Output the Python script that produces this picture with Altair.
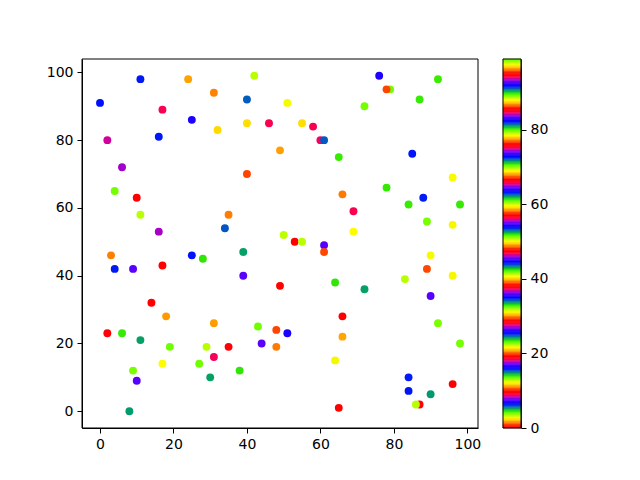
import altair as alt
import numpy as np
import pandas as pd

# ---- data ----
xs = [11, 24, 31, 0, 17, 25, 32, 2, 16, 6,
      4, 10, 11, 16, 34, 42, 40, 51, 40, 46,
      55, 58, 60, 61, 49, 65, 40, 66, 35, 69,
      50, 53, 55, 61, 69, 76, 79, 78, 92, 87,
      72, 85, 96, 78, 88, 84, 98, 89, 96, 3,
      4, 9, 17, 25, 28, 14, 18, 31, 2, 6,
      11, 19, 29, 31, 17, 27, 9, 30, 10, 8,
      39, 39, 49, 61, 64, 43, 48, 51, 35, 44,
      48, 66, 66, 64, 38, 65, 90, 89, 96, 83,
      72, 90, 92, 98, 84, 84, 90, 96, 87, 86]
ys = [98, 98, 94, 91, 89, 86, 83, 80, 81, 72,
      65, 63, 58, 53, 54, 99, 92, 91, 85, 85,
      85, 84, 80, 80, 77, 75, 70, 64, 58, 59,
      52, 50, 50, 49, 53, 99, 95, 95, 98, 92,
      90, 76, 69, 66, 63, 61, 61, 56, 55, 46,
      42, 42, 43, 46, 45, 32, 28, 26, 23, 23,
      21, 19, 19, 16, 14, 14, 12, 10, 9, 0,
      47, 40, 37, 47, 38, 25, 24, 23, 19, 20,
      19, 28, 22, 15, 12, 1, 46, 42, 40, 39,
      36, 34, 26, 20, 10, 6, 5, 8, 2, 2]
cs = [6.4, 11.3, 20.5, 34.9, 46.9, 54.4, 59.2, 74.9, 82.2, 93.5,
      4.0, 9.7, 22.4, 36.7, 43.8, 50.8, 62.7, 69.2, 78.2, 94.3,
      2.4, 18.5, 27.9, 34.3, 39.7, 51.9, 57.9, 67.8, 77.3, 94.3,
      3.4, 9.7, 22.4, 36.0, 40.7, 54.4, 70.3, 57.9, 80.3, 89.8,
      4.0, 15.9, 21.8, 33.0, 44.3, 51.9, 61.4, 70.3, 78.6, 86.8,
      6.4, 17.1, 19.1, 34.9, 42.5, 47.6, 58.6, 68.1, 76.0, 89.8,
      5.3, 13.5, 22.4, 37.4, 40.7, 51.4, 60.8, 71.6, 83.4, 90.6,
      5.3, 17.1, 19.1, 29.5, 42.5, 51.4, 57.9, 73.3, 76.0, 92.9,
      1.5, 9.7, 20.8, 31.3, 42.5, 47.6, 59.7, 67.4, 78.6, 88.7,
      5.3, 17.1, 22.9, 32.4, 44.3, 53.8, 62.2, 66.5, 76.0, 88.7]
x_ticks = [0, 20, 40, 60, 80, 100]
y_ticks = [0, 20, 40, 60, 80, 100]
cbar_ticks = [0, 20, 40, 60, 80]
vmin, vmax = 0, 99

# ---- prism colormap (style) ----
N = 256
u = np.linspace(0, 1, N)
r = np.clip(0.75 * np.sin((u * 20.9 + 0.25) * np.pi) + 0.67, 0, 1)
g = np.clip(0.75 * np.sin((u * 20.9 - 0.25) * np.pi) + 0.33, 0, 1)
b = np.clip(-1.1 * np.sin(u * 20.9 * np.pi), 0, 1)
prism = ["#%02x%02x%02x" % (int(round(a * 255)), int(round(bb * 255)), int(round(c * 255)))
         for a, bb, c in zip(r, g, b)]
dom = [float(v) for v in np.linspace(vmin, vmax, N)]
cscale = alt.Scale(type="linear", domain=dom, range=prism, interpolate="rgb")

df = pd.DataFrame({"x": xs, "y": ys, "c": cs})

FONT = "DejaVu Sans"
axis_style = dict(grid=False, title=None, domainColor="black", domainWidth=1,
                  tickColor="black", tickWidth=1, tickSize=5, labelFontSize=14,
                  labelColor="black", labelPadding=4, labelFont=FONT)

W, H = 396, 369
CW = 18
one = pd.DataFrame({"k": [0]})

def frame(w, h):
    return alt.Chart(one).mark_rect(filled=False, stroke="black", strokeWidth=1).encode(
        x=alt.value(0), x2=alt.value(w), y=alt.value(0), y2=alt.value(h))

points = alt.Chart(df).mark_circle(size=62, opacity=1).encode(
    x=alt.X("x:Q", scale=alt.Scale(domain=[-4.9, 102.9], nice=False, zero=False),
            axis=alt.Axis(values=x_ticks, **axis_style)),
    y=alt.Y("y:Q", scale=alt.Scale(domain=[-4.95, 103.95], nice=False, zero=False),
            axis=alt.Axis(values=y_ticks, minExtent=40, maxExtent=40, **axis_style)),
    color=alt.Color("c:Q", scale=cscale, legend=None),
)
scatter = alt.layer(points, frame(W, H)).properties(width=W, height=H)

# colorbar ramp
edges = np.linspace(vmin, vmax, N + 1)
bar_df = pd.DataFrame({"lo": edges[:-1], "hi": edges[1:], "v": (edges[:-1] + edges[1:]) / 2})
bands = alt.Chart(bar_df).mark_rect(strokeWidth=0.6).encode(
    x=alt.value(0), x2=alt.value(CW),
    y=alt.Y("lo:Q", scale=alt.Scale(domain=[vmin, vmax], nice=False, zero=False),
            axis=alt.Axis(values=cbar_ticks, orient="right", **axis_style)),
    y2="hi:Q",
    color=alt.Color("v:Q", scale=cscale, legend=None),
    stroke=alt.Stroke("v:Q", scale=cscale, legend=None),
)
cbar = alt.layer(bands, frame(CW, H)).properties(width=CW, height=H)

chart = alt.hconcat(scatter, cbar, spacing=21).properties(
    padding={"left": 34, "top": 50, "right": 5, "bottom": 5}
).configure(font=FONT).configure_view(stroke=None)

chart.save("out.html", embed_options={"renderer": "svg", "actions": False})
